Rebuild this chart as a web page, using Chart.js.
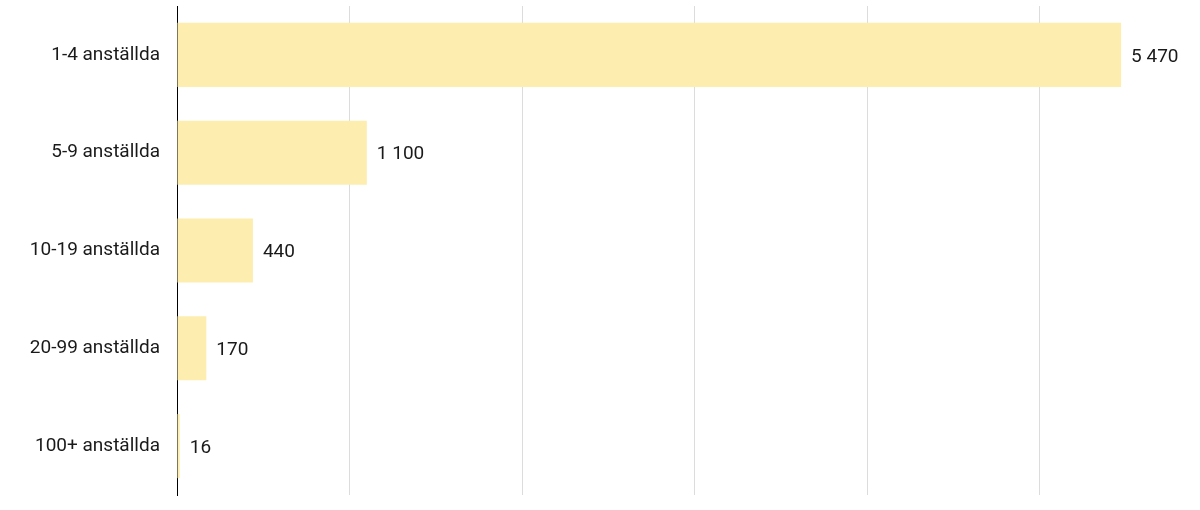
<!DOCTYPE html>
<html>
<head>
<meta charset="utf-8">
<script src="https://cdn.jsdelivr.net/npm/chart.js@4"></script>
<style>
  html, body { margin: 0; padding: 0; background: #fff; }
  #wrap { width: 1200px; height: 510px; }
</style>
</head>
<body>
<div id="wrap"><canvas id="chart"></canvas></div>
<script>
// data
const categories = ['1-4 anställda', '5-9 anställda', '10-19 anställda', '20-99 anställda', '100+ anställda'];
const companies = [5470, 1100, 440, 170, 16];
const gridValues = [0, 1000, 2000, 3000, 4000, 5000];

// thousands with a space, like "5 470"
function fmt(v) {
  return String(v).replace(/\B(?=(\d{3})+(?!\d))/g, ' ');
}

// draws the value just right of each bar end
const valueLabels = {
  id: 'valueLabels',
  afterDatasetsDraw(chart) {
    const ctx = chart.ctx;
    const meta = chart.getDatasetMeta(0);
    ctx.save();
    ctx.font = '19px Roboto';
    ctx.fillStyle = '#1a1a1a';
    ctx.textAlign = 'left';
    ctx.textBaseline = 'middle';
    meta.data.forEach((bar, i) => {
      ctx.fillText(fmt(companies[i]), bar.x + 10, bar.y + 2);
    });
    ctx.restore();
  }
};

const ctx = document.getElementById('chart').getContext('2d');
new Chart(ctx, {
  type: 'bar',
  data: {
    labels: categories,
    datasets: [{
      data: companies,
      backgroundColor: '#FDEEB0',
      borderWidth: 0,
      barPercentage: 0.655,
      categoryPercentage: 1
    }]
  },
  plugins: [valueLabels],
  options: {
    indexAxis: 'y',
    animation: false,
    responsive: true,
    maintainAspectRatio: false,
    layout: { padding: { top: 6, bottom: 15, left: 0, right: 0 } },
    plugins: {
      legend: { display: false },
      tooltip: { enabled: false }
    },
    scales: {
      x: {
        min: 0,
        max: 5927,
        ticks: { display: false },
        // gridlines every 1000, the plot runs a bit past the last one
        afterBuildTicks: (scale) => {
          scale.ticks = gridValues.map(v => ({ value: v }));
        },
        grid: {
          color: (c) => (c.tick && c.tick.value > 0) ? '#dcdcdc' : 'rgba(0,0,0,0)',
          lineWidth: 1,
          drawTicks: false
        },
        border: { display: false }
      },
      y: {
        afterFit: (scale) => {
          scale.width = 177;
          // keep the label padding from shrinking the plot vertically
          scale.paddingTop = 0;
          scale.paddingBottom = 0;
        },
        ticks: {
          color: '#1a1a1a',
          font: { family: 'Roboto', size: 19 },
          padding: 17
        },
        grid: { display: false, drawTicks: false },
        border: { display: true, color: '#000', width: 1 }
      }
    }
  }
});
</script>
</body>
</html>
